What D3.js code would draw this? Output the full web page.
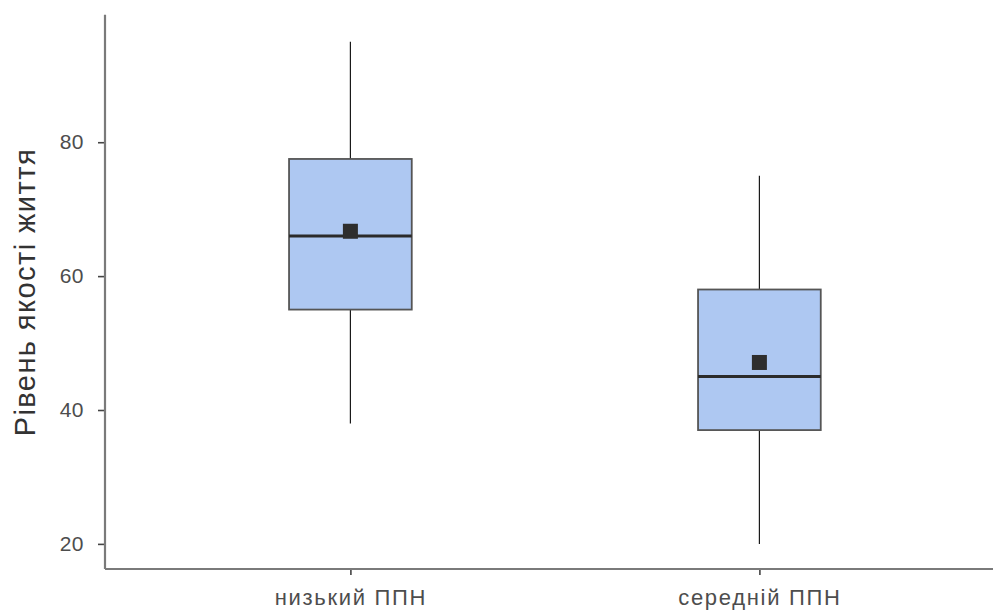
<!DOCTYPE html>
<html>
<head>
<meta charset="utf-8">
<script src="https://cdn.jsdelivr.net/npm/d3@7"></script>
<style>
  html, body { margin: 0; padding: 0; background: #fff; }
  svg { display: block; font-family: "Liberation Sans", Arial, sans-serif; }
</style>
</head>
<body>
<svg id="chart" width="993" height="610"></svg>
<script>
// ---- data ----
const categories = ["низький ППН", "середній ППН"];
const whiskerLow  = [38, 20];
const q1          = [55, 37];
const median      = [66, 45];
const q3          = [77.5, 58];
const whiskerHigh = [95, 75];
const mean        = [66.7, 47.1];
const yTicks      = [20, 40, 60, 80];
const yTitle      = "Рівень якості життя";

// ---- layout ----
const W = 993, H = 610;
const mLeft = 105, mBottom = 569, mTop = 16.7;
const svg = d3.select("#chart");

const y = d3.scaleLinear().domain([16.25, 98.75]).range([mBottom, mTop]);
const x = d3.scaleLinear().domain([0.4, 2.6]).range([mLeft, mLeft + 2.2 * 409]);
const boxW = x(1.3) - x(1.0);

const g = svg.append("g");

categories.forEach((c, i) => {
  const cx = x(i + 1);
  g.append("line").attr("x1", cx).attr("x2", cx)
    .attr("y1", y(q3[i])).attr("y2", y(whiskerHigh[i]))
    .attr("stroke", "#1a1a1a").attr("stroke-width", 1.2);
  g.append("line").attr("x1", cx).attr("x2", cx)
    .attr("y1", y(q1[i])).attr("y2", y(whiskerLow[i]))
    .attr("stroke", "#1a1a1a").attr("stroke-width", 1.2);
  g.append("rect")
    .attr("x", cx - boxW / 2).attr("width", boxW)
    .attr("y", y(q3[i])).attr("height", y(q1[i]) - y(q3[i]))
    .attr("fill", "#aec8f2").attr("stroke", "#555555").attr("stroke-width", 1.8);
  g.append("line")
    .attr("x1", cx - boxW / 2).attr("x2", cx + boxW / 2)
    .attr("y1", y(median[i])).attr("y2", y(median[i]))
    .attr("stroke", "#2b2b2b").attr("stroke-width", 3);
  const s = 15;
  g.append("rect")
    .attr("x", cx - s / 2).attr("y", y(mean[i]) - s / 2)
    .attr("width", s).attr("height", s)
    .attr("fill", "#2e2e2e");
});

// ---- axes ----
const yAxis = d3.axisLeft(y).tickValues(yTicks).tickSize(7).tickPadding(14);
const ya = svg.append("g").attr("transform", `translate(${mLeft},0)`).call(yAxis);
ya.select(".domain").remove();
ya.selectAll(".tick line").attr("stroke", "#444").attr("stroke-width", 1.6);
ya.selectAll(".tick text").attr("fill", "#4d4d4d").style("font-size", "21px")
  .style("letter-spacing", "0.5px")
  .style("font-family", "'Liberation Sans', Arial, sans-serif");

const xAxis = d3.axisBottom(x).tickValues([1, 2]).tickFormat((d) => categories[d - 1]).tickSize(6).tickPadding(14);
const xa = svg.append("g").attr("transform", `translate(0,${mBottom})`).call(xAxis);
xa.select(".domain").remove();
xa.selectAll(".tick line").attr("stroke", "#444").attr("stroke-width", 1.6);
xa.selectAll(".tick text").attr("fill", "#4d4d4d").style("font-size", "22px")
  .style("letter-spacing", "1.7px")
  .style("font-family", "'Liberation Sans', Arial, sans-serif");

svg.append("line").attr("x1", mLeft).attr("x2", mLeft).attr("y1", mTop - 2).attr("y2", mBottom)
  .attr("stroke", "#7a7a7a").attr("stroke-width", 2.2);
svg.append("line").attr("x1", mLeft).attr("x2", W).attr("y1", mBottom).attr("y2", mBottom)
  .attr("stroke", "#7a7a7a").attr("stroke-width", 2.2);

svg.append("text")
  .attr("transform", `translate(35,${(mTop + mBottom) / 2}) rotate(-90)`)
  .attr("text-anchor", "middle")
  .attr("fill", "#333")
  .style("font-size", "29px")
  .attr("textLength", 287)
  .attr("lengthAdjust", "spacing")
  .text(yTitle);
</script>
</body>
</html>
